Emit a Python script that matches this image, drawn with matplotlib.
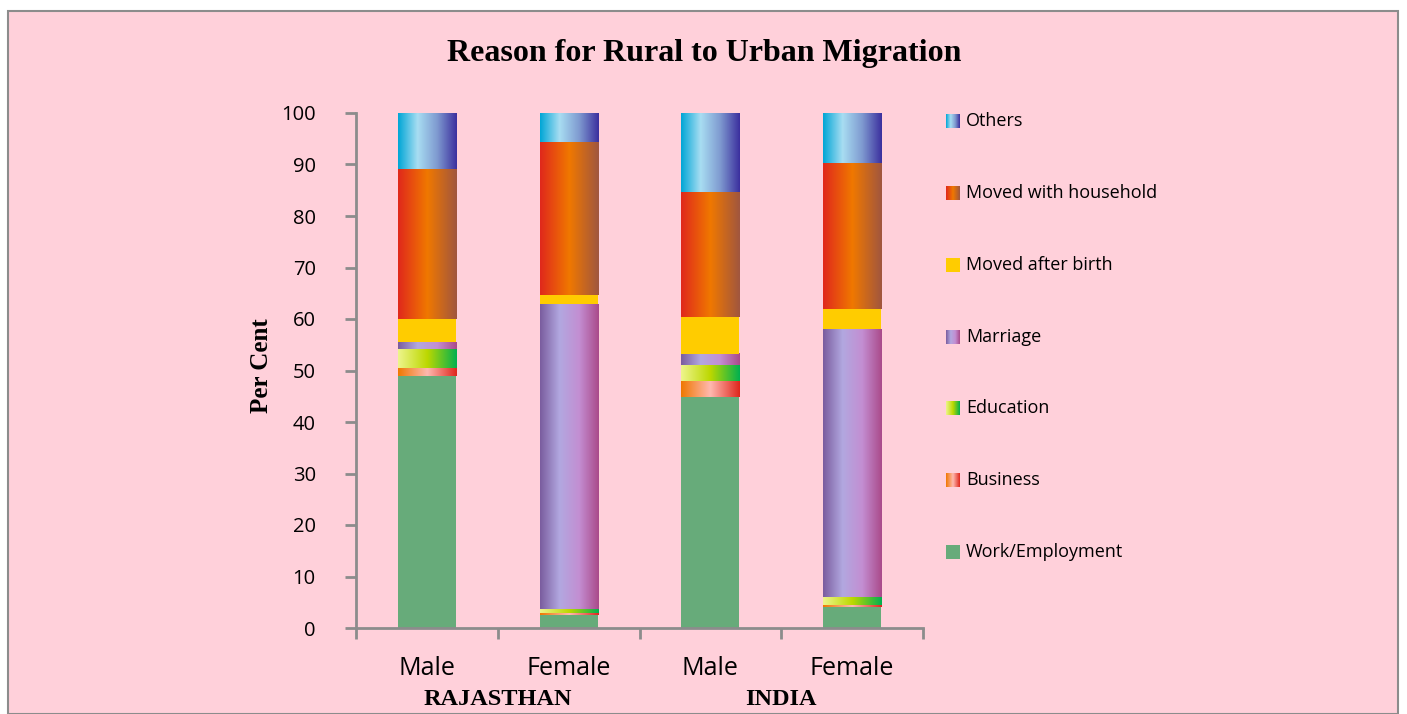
import numpy as np
import matplotlib.pyplot as plt
from matplotlib.colors import LinearSegmentedColormap
from matplotlib.patches import Rectangle

# categories
cats = ['Male', 'Female', 'Male', 'Female']
groups = ['RAJASTHAN', 'INDIA']

# per cent shares, bottom to top
work = [49.0, 2.6, 44.9, 4.1]
business = [1.5, 0.4, 3.1, 0.4]
education = [3.7, 0.7, 3.1, 1.5]
marriage = [1.3, 59.2, 2.2, 52.0]
after_birth = [4.5, 1.8, 7.1, 3.9]
household = [29.1, 29.7, 24.3, 28.4]
others = [10.9, 5.6, 15.3, 9.7]

series = [
    ('Work/Employment', work, '#67ab7a'),
    ('Business', business, ['#f07800', '#ffb9b0', '#e0261c']),
    ('Education', education, ['#eef58c', '#bcd800', '#00b050']),
    ('Marriage', marriage, ['#7a5c9e', '#b2a8e0', '#c38ed2', '#aa4a8a']),
    ('Moved after birth', after_birth, '#ffcc00'),
    ('Moved with household', household, ['#e0281c', '#f07800', '#a0563f']),
    ('Others', others, ['#00a6d6', '#a8ddf2', '#7f9ad0', '#3b2f9e']),
]

PINK = '#ffd0da'

fig = plt.figure(figsize=(14.07, 7.14), dpi=100)
fig.patch.set_facecolor('white')
fig.patches.append(Rectangle((8 / 1407, 0), 1390 / 1407, 703 / 714, transform=fig.transFigure,
                             facecolor=PINK, edgecolor='#8c8c8c', linewidth=1.5, zorder=-10))

ax = fig.add_axes([356 / 1407, 86 / 714, 567 / 1407, 515 / 714])
ax.patch.set_alpha(0)

x = np.arange(len(cats))
w = 0.41
grad = np.linspace(0, 1, 256).reshape(1, -1)
bottom = np.zeros(len(cats))
for name, vals, col in series:
    vals = np.array(vals)
    if isinstance(col, str):
        ax.bar(x, vals, w, bottom=bottom, color=col, zorder=2)
    else:
        cmap = LinearSegmentedColormap.from_list(name, col)
        for xi, b, v in zip(x, bottom, vals):
            ax.imshow(grad, cmap=cmap, aspect='auto', zorder=2,
                      extent=[xi - w / 2, xi + w / 2, b, b + v])
    bottom += vals

ax.set_xlim(-0.5, len(cats) - 0.5)
ax.set_ylim(0, 100)
ax.set_yticks(range(0, 101, 10))
ax.set_xticks(np.arange(-0.5, len(cats), 1.0))
ax.set_xticklabels([])
ax.tick_params(axis='y', labelsize=14.5, length=8, width=2, color='#8c8c8c', pad=21)
ax.tick_params(axis='x', length=8, width=2, color='#8c8c8c')
for lab in ax.get_yticklabels():
    lab.set_family('Open Sans')
for s in ['top', 'right']:
    ax.spines[s].set_visible(False)
for s in ['left', 'bottom']:
    ax.spines[s].set_color('#8c8c8c')
    ax.spines[s].set_linewidth(2)

for xi, c in zip(x, cats):
    ax.text(xi, -5.5, c, ha='center', va='top', fontsize=18, family='Open Sans')
for gi, g in enumerate(groups):
    ax.text(2 * gi + 0.5, -11.8, g, ha='center', va='top', fontsize=17.5,
            family='Liberation Serif', fontweight='bold')

fig.text(262 / 1407, 1 - 366 / 714, 'Per Cent', rotation=90, ha='center', va='center',
         fontsize=18, family='Liberation Serif', fontweight='bold')
fig.text(704 / 1407, 1 - 53 / 714, 'Reason for Rural to Urban Migration', ha='center', va='center',
         fontsize=23, family='Liberation Serif', fontweight='bold')

# legend, top entry first
leg_y = [121, 193, 265, 337, 408, 480, 552]
for (name, vals, col), py in zip(series[::-1], leg_y):
    lax = fig.add_axes([946 / 1407, 1 - (py + 7) / 714, 14 / 1407, 14 / 714])
    lax.axis('off')
    if isinstance(col, str):
        lax.imshow([[0]], cmap=LinearSegmentedColormap.from_list(name, [col, col]), aspect='auto')
    else:
        lax.imshow(grad, cmap=LinearSegmentedColormap.from_list(name, col), aspect='auto')
    fig.text(966 / 1407, 1 - py / 714, name, ha='left', va='center', fontsize=13, family='Open Sans')

fig.savefig('out.png', dpi=100)
